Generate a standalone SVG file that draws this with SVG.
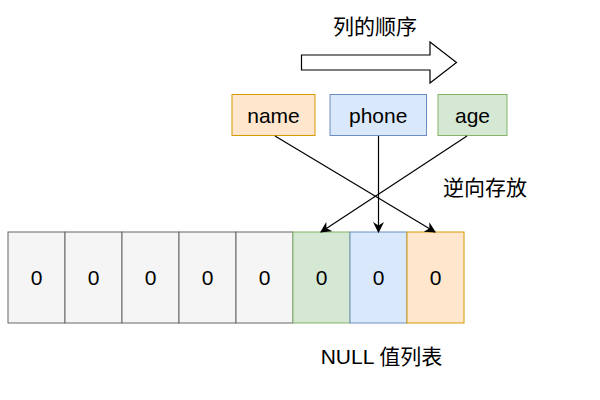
<svg xmlns="http://www.w3.org/2000/svg" width="600" height="400" viewBox="0 0 600 400">
<style>
text{font-family:"Liberation Sans","Noto Sans CJK SC",sans-serif;font-size:21px;fill:#000;text-anchor:middle;dominant-baseline:central}
.g{fill:#f5f5f5;stroke:#666666}
.o{fill:#ffe6cc;stroke:#d79b00}
.b{fill:#dae8fc;stroke:#6c8ebf}
.gr{fill:#d5e8d4;stroke:#82b366}
.c line{stroke:#000;stroke-width:1.2}
</style>
<defs>
<marker id="ar" viewBox="0 0 10 10" refX="9" refY="5" markerWidth="11" markerHeight="11" markerUnits="userSpaceOnUse" orient="auto">
<path d="M0,0 L10,5 L0,10 L3,5 Z" fill="#000"/>
</marker>
</defs>
<rect width="600" height="400" fill="#fff"/>
<g id="order-arrow">
<path d="M301.5,55 H430 V42 L456.5,62.5 L430,83 V70 H301.5 Z" fill="#fff" stroke="#000" stroke-width="1.2"/>
<text x="375" y="26">列的顺序</text>
</g>
<g id="name"><rect class="o" x="232" y="94.5" width="83" height="41"/><text x="273.5" y="115">name</text></g>
<g id="phone"><rect class="b" x="330" y="94.5" width="96.5" height="41"/><text x="378.2" y="115">phone</text></g>
<g id="age"><rect class="gr" x="438" y="94.5" width="69" height="41"/><text x="472.5" y="115">age</text></g>
<g id="null-list">
<rect class="g" x="8" y="232" width="57" height="91"/><text x="36.5" y="277.5">0</text>
<rect class="g" x="65" y="232" width="57" height="91"/><text x="93.5" y="277.5">0</text>
<rect class="g" x="122" y="232" width="57" height="91"/><text x="150.5" y="277.5">0</text>
<rect class="g" x="179" y="232" width="57" height="91"/><text x="207.5" y="277.5">0</text>
<rect class="g" x="236" y="232" width="57" height="91"/><text x="264.5" y="277.5">0</text>
<rect class="gr" x="293" y="232" width="57" height="91"/><text x="321.5" y="277.5">0</text>
<rect class="b" x="350" y="232" width="57" height="91"/><text x="378.5" y="277.5">0</text>
<rect class="o" x="407" y="232" width="57" height="91"/><text x="435.5" y="277.5">0</text>
<text x="381.5" y="356">NULL 值列表</text>
</g>
<g class="c" id="connectors">
<line x1="275" y1="136" x2="435" y2="232" marker-end="url(#ar)"/>
<line x1="378.5" y1="136" x2="378.5" y2="232" marker-end="url(#ar)"/>
<line x1="467" y1="136" x2="321" y2="232" marker-end="url(#ar)"/>
</g>
<text x="485" y="187">逆向存放</text>
</svg>
